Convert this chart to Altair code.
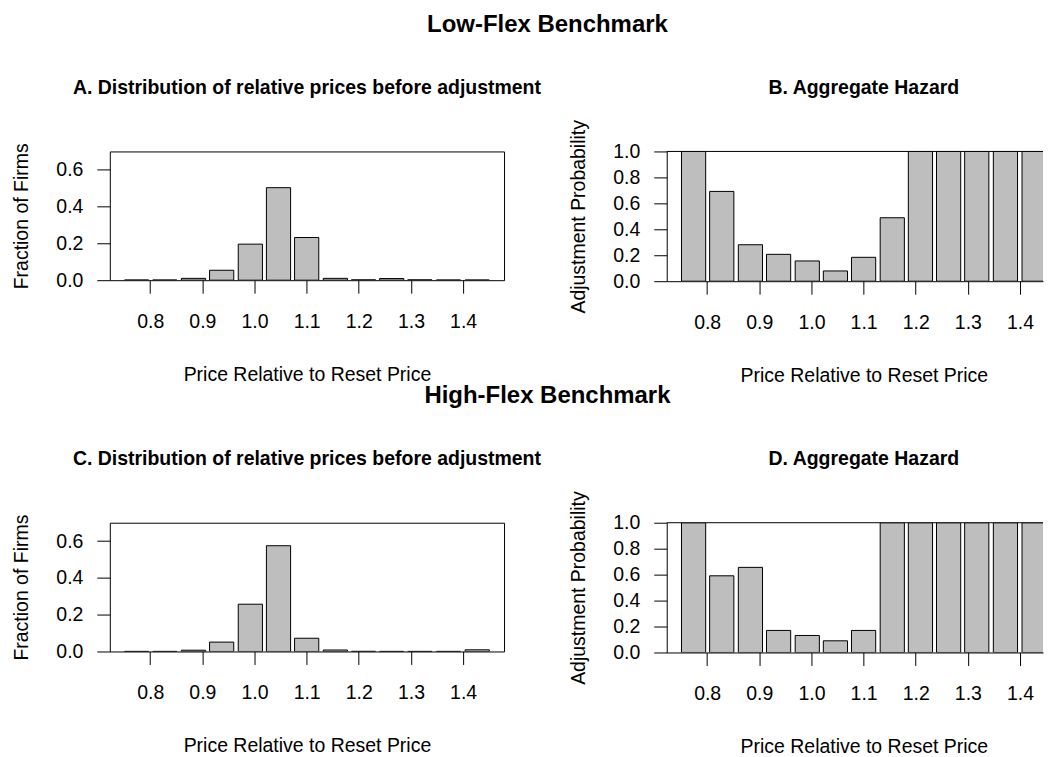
import altair as alt
import pandas as pd

FONT = "Liberation Sans"

# ---- data ----
price_bins = [0.774, 0.828, 0.883, 0.937, 0.992, 1.046, 1.100, 1.155, 1.209, 1.263, 1.317, 1.372, 1.427]
price_ticks = [0.8, 0.9, 1.0, 1.1, 1.2, 1.3, 1.4]
fraction_ticks = [0.0, 0.2, 0.4, 0.6]
probability_ticks = [0.0, 0.2, 0.4, 0.6, 0.8, 1.0]

low_flex_fraction = [0.001, 0.001, 0.010, 0.054, 0.196, 0.503, 0.232, 0.010, 0.002, 0.009, 0.002, 0.001, 0.001]
low_flex_hazard = [1.0, 0.692, 0.281, 0.207, 0.156, 0.079, 0.184, 0.489, 1.0, 1.0, 1.0, 1.0, 1.0]
high_flex_fraction = [0.0005, 0.0005, 0.007, 0.051, 0.257, 0.575, 0.072, 0.008, 0.001, 0.0005, 0.0005, 0.0005, 0.009]
high_flex_hazard = [1.0, 0.591, 0.656, 0.170, 0.131, 0.090, 0.170, 1.0, 1.0, 1.0, 1.0, 1.0, 1.0]

super_titles = ["Low-Flex Benchmark", "High-Flex Benchmark"]
panel_titles = [
    "A. Distribution of relative prices before adjustment",
    "B. Aggregate Hazard",
    "C. Distribution of relative prices before adjustment",
    "D. Aggregate Hazard",
]
x_title = "Price Relative to Reset Price"
y_titles = ["Fraction of Firms", "Adjustment Probability"]

# ---- layout constants ----
X0 = 0.7225
PX_PER_UNIT = 522.5
HALF = 0.0232
FS = 19.5


def panel(values, yticks, ymax, ytitle, ptitle, width, height, boxed, supertitle=None):
    df = pd.DataFrame({"price": price_bins, "value": values})
    x_axis = alt.Axis(
        values=price_ticks, format=".1f", title=x_title,
        domain=not boxed, domainColor="black", domainWidth=1,
        ticks=True, tickSize=13, tickColor="black", tickWidth=1,
        labelFontSize=FS, labelColor="black", labelFont=FONT, labelPadding=19.5,
        labelBaseline="top", labelFlush=False, labelOverlap=False, grid=False,
        titleFontSize=FS, titleFontWeight="normal", titleColor="black", titleFont=FONT,
        titleX=197.5, titleY=100.5, titleBaseline="alphabetic", titleAlign="center",
    )
    y_axis = alt.Axis(
        values=yticks, format=".1f", title=ytitle,
        domain=not boxed, domainColor="black", domainWidth=1,
        ticks=True, tickSize=13, tickColor="black", tickWidth=1,
        labelFontSize=FS, labelColor="black", labelFont=FONT, labelPadding=14,
        labelFlush=False, labelOverlap=False, grid=False,
        titleFontSize=FS, titleFontWeight="normal", titleColor="black", titleFont=FONT,
        titleX=-82.3, titleY=height / 2, titleAngle=270, titleBaseline="alphabetic",
        titleAlign="center",
    )
    x_scale = alt.Scale(domain=[X0, X0 + width / PX_PER_UNIT], nice=False, zero=False)
    y_scale = alt.Scale(domain=[0, ymax], nice=False, zero=True)
    bars = (
        alt.Chart(df)
        .transform_calculate(lo=f"datum.price - {HALF}", hi=f"datum.price + {HALF}", base="0")
        .mark_rect(fill="#bebebe", stroke="black", strokeWidth=1, clip=True)
        .encode(
            x=alt.X("lo:Q", scale=x_scale, axis=x_axis),
            x2="hi:Q",
            y=alt.Y("value:Q", scale=y_scale, axis=y_axis),
            y2="base:Q",
        )
    )
    layers = [bars]
    if not boxed:
        top = (
            alt.Chart(pd.DataFrame({"value": [ymax]}))
            .mark_rule(color="black", strokeWidth=1)
            .encode(y=alt.Y("value:Q", scale=y_scale, axis=y_axis))
        )
        layers.append(top)
    ttl = (
        alt.Chart(pd.DataFrame({"t": [ptitle]}))
        .mark_text(font=FONT, fontSize=FS, fontWeight="bold", color="black", align="center", baseline="alphabetic")
        .encode(text="t:N", x=alt.value(197.5), y=alt.value(-58))
    )
    layers.append(ttl)
    if supertitle is not None:
        sup = (
            alt.Chart(pd.DataFrame({"t": [supertitle]}))
            .mark_text(font=FONT, fontSize=24, fontWeight="bold", color="black", align="center", baseline="alphabetic")
            .encode(text="t:N", x=alt.value(438.5), y=alt.value(-120))
        )
        layers.append(sup)
    ch = alt.layer(*layers).properties(width=width, height=height)
    if boxed:
        ch = ch.properties(view=alt.ViewBackground(stroke="black", strokeWidth=1))
    else:
        ch = ch.properties(view=alt.ViewBackground(stroke="transparent"))
    return ch


pA = panel(low_flex_fraction, fraction_ticks, 0.7, y_titles[0], panel_titles[0], 395, 129, True, super_titles[0])
pB = panel(low_flex_hazard, probability_ticks, 1.0, y_titles[1], panel_titles[1], 377, 130, False)
pC = panel(high_flex_fraction, fraction_ticks, 0.7, y_titles[0], panel_titles[2], 395, 129, True, super_titles[1])
pD = panel(high_flex_hazard, probability_ticks, 1.0, y_titles[1], panel_titles[3], 377, 130, False)

chart = (
    alt.concat(pA, pB, pC, pD, columns=2, spacing={"row": 242, "column": 163}, bounds="flush")
    .properties(padding={"left": 3, "top": 3, "right": 0, "bottom": 0})
    .configure_view(stroke="black", strokeWidth=1)
    .configure(font=FONT, background="white")
)

chart.save("out.html", embed_options={"renderer": "svg", "actions": False})
